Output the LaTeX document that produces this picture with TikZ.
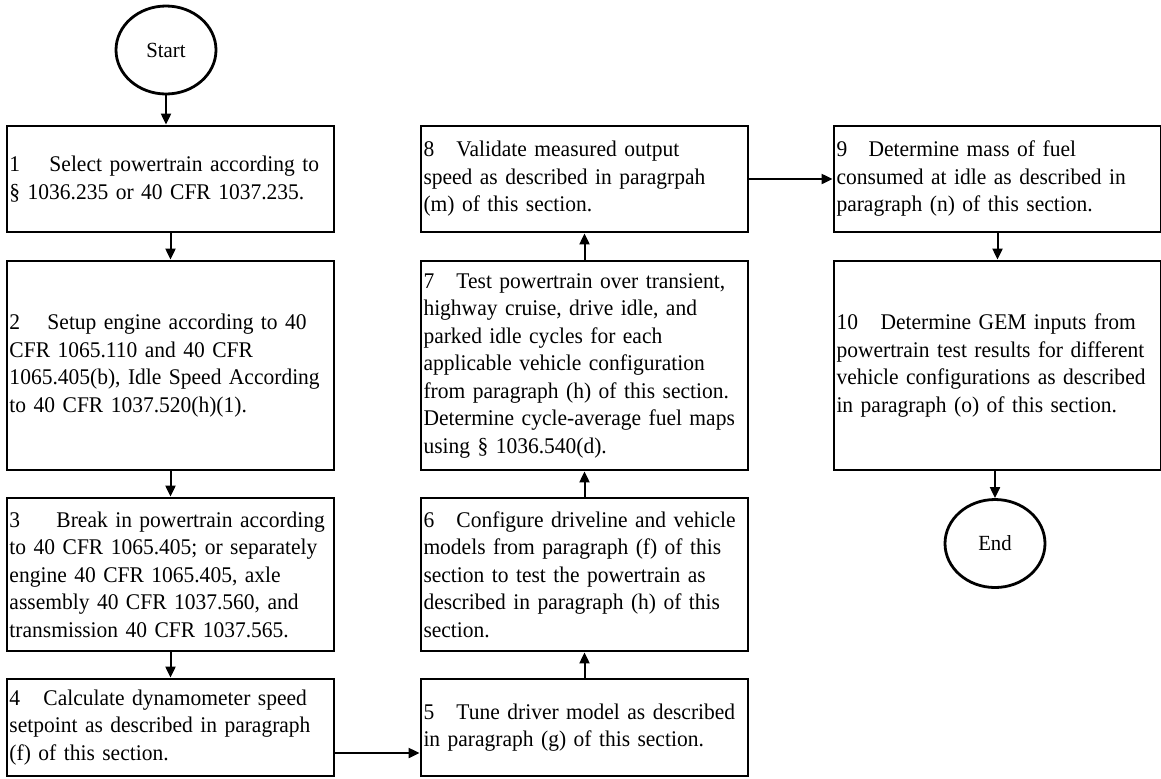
\documentclass[tikz,border=0pt]{standalone}
\usepackage{fontspec}
\setmainfont{Liberation Serif}[FakeStretch=0.96]
\usetikzlibrary{positioning}
\usetikzlibrary{arrows.meta}
\usetikzlibrary{shapes.geometric}

\newcommand{\stepno}[2]{\makebox[#1][l]{#2}}

\tikzset{
  stepbox/.style={draw=black, line width=1.4pt, minimum width=163.5pt, text width=161pt,
    align=left, inner sep=1.25pt, font=\fontsize{11.2}{13.75}\selectfont},
  termnode/.style={ellipse, draw=black, line width=1.4pt, minimum width=50pt,
    minimum height=44pt, inner sep=0pt, font=\fontsize{10.8}{12}\selectfont},
  flow/.style={-{Triangle[length=5.5pt,width=5pt]}, line width=1pt},
}

\begin{document}
\begin{tikzpicture}[x=0.5pt, y=-0.5pt]
    \useasboundingbox (0,0) rectangle (1161,778);

    % left column
    \node[termnode] (start) at (166,50) {Start};
    \node[stepbox, minimum height=53pt] (s1) at (170.5,179)
      {\stepno{20pt}{1}Select powertrain according to\\ § 1036.235 or 40 CFR 1037.235.};
    \node[stepbox, minimum height=104.5pt] (s2) at (170.5,365.5)
      {\stepno{19pt}{2}Setup engine according to 40\\ CFR 1065.110 and 40 CFR\\ 1065.405(b), Idle Speed According\\ to 40 CFR 1037.520(h)(1).};
    \node[stepbox, minimum height=76.5pt] (s3) at (170.5,574.5)
      {\stepno{23.5pt}{3}Break in powertrain according\\ to 40 CFR 1065.405; or separately\\ engine 40 CFR 1065.405, axle\\ assembly 40 CFR 1037.560, and\\ transmission 40 CFR 1037.565.};
    \node[stepbox, minimum height=48.5pt] (s4) at (170.5,727.5)
      {\stepno{17pt}{4}Calculate dynamometer speed\\ setpoint as described in paragraph\\ (f) of this section.};

    % middle column
    \node[stepbox, minimum height=48.5pt] (s5) at (584.5,727.5)
      {\stepno{16.5pt}{5}Tune driver model as described\\ in paragraph (g) of this section.};
    \node[stepbox, minimum height=76.5pt] (s6) at (584.5,574.5)
      {\stepno{16.5pt}{6}Configure driveline and vehicle\\ models from paragraph (f) of this\\ section to test the powertrain as\\ described in paragraph (h) of this\\ section.};
    \node[stepbox, minimum height=104.5pt] (s7) at (584.5,365.5)
      {\stepno{16.5pt}{7}Test powertrain over transient,\\ highway cruise, drive idle, and\\ parked idle cycles for each\\ applicable vehicle configuration\\ from paragraph (h) of this section.\\ Determine cycle-average fuel maps\\ using § 1036.540(d).};
    \node[stepbox, minimum height=53pt] (s8) at (584.5,179)
      {\stepno{16.5pt}{8}Validate measured output\\ speed as described in paragrpah\\ (m) of this section.};

    % right column
    \node[stepbox, minimum height=53pt] (s9) at (997.5,179)
      {\stepno{16pt}{9}Determine mass of fuel\\ consumed at idle as described in\\ paragraph (n) of this section.};
    \node[stepbox, minimum height=104.5pt] (s10) at (997.5,365.5)
      {\stepno{22pt}{10}Determine GEM inputs from\\ powertrain test results for different\\ vehicle configurations as described\\ in paragraph (o) of this section.};
    \node[termnode] (end) at (995,543.5) {End};

    % connectors
    \draw[flow] (start.south) -- (start.south |- s1.north);
    \draw[flow] (s1.south) -- (s2.north);
    \draw[flow] (s2.south) -- (s3.north);
    \draw[flow] (s3.south) -- (s4.north);
    \draw[flow] ([yshift=-12.75pt]s4.east) -- ([yshift=-12.75pt]s5.west);
    \draw[flow] (s5.north) -- (s6.south);
    \draw[flow] (s6.north) -- (s7.south);
    \draw[flow] (s7.north) -- (s8.south);
    \draw[flow] (s8.east) -- (s9.west);
    \draw[flow] (s9.south) -- (s10.north);
    \draw[flow] (s10.south -| end.north) -- (end.north);
\end{tikzpicture}
\end{document}
